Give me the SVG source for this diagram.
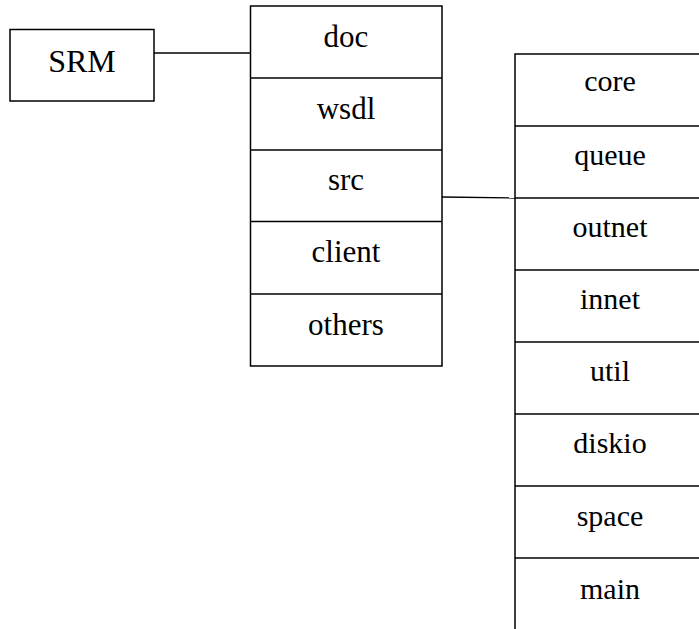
<svg xmlns="http://www.w3.org/2000/svg" width="699" height="629" viewBox="0 0 699 629" font-family="'Liberation Serif', 'Times New Roman', Times, serif">
<style>
.b{fill:#fff;stroke:#000;stroke-width:1.5}
.l{fill:none;stroke:#000;stroke-width:1.3}
text{font-size:31px;fill:#000;text-anchor:middle}
.s{font-size:30px}
</style>
<rect width="699" height="629" fill="#fff"/>
<g id="connectors">
<line class="l" x1="154" y1="53" x2="250" y2="53"/>
<line class="l" x1="442" y1="197" x2="515" y2="198"/>
</g>
<g id="srm">
<rect class="b" x="10" y="29.5" width="144" height="71.5"/>
<text x="82" y="72" style="font-size:32px">SRM</text>
</g>
<g id="mid">
<rect class="b" x="250.5" y="6" width="191.5" height="360"/>
<line class="l" x1="250.5" y1="78" x2="442" y2="78"/>
<line class="l" x1="250.5" y1="150" x2="442" y2="150"/>
<line class="l" x1="250.5" y1="221.5" x2="442" y2="221.5"/>
<line class="l" x1="250.5" y1="294" x2="442" y2="294"/>
</g>
<g id="doc"><text x="346" y="47">doc</text></g>
<g id="wsdl"><text x="346" y="119">wsdl</text></g>
<g id="src"><text x="346" y="190">src</text></g>
<g id="client"><text x="346" y="262">client</text></g>
<g id="others"><text x="346" y="335">others</text></g>
<g id="right">
<rect class="b" x="515" y="54" width="192" height="600"/>
<line class="l" x1="515" y1="126" x2="707" y2="126"/>
<line class="l" x1="515" y1="198" x2="707" y2="198"/>
<line class="l" x1="515" y1="270" x2="707" y2="270"/>
<line class="l" x1="515" y1="342" x2="707" y2="342"/>
<line class="l" x1="515" y1="414" x2="707" y2="414"/>
<line class="l" x1="515" y1="486" x2="707" y2="486"/>
<line class="l" x1="515" y1="558" x2="707" y2="558"/>
</g>
<g id="core"><text class="s" x="610" y="91">core</text></g>
<g id="queue"><text class="s" x="610" y="165">queue</text></g>
<g id="outnet"><text class="s" x="610" y="237">outnet</text></g>
<g id="innet"><text class="s" x="610" y="309">innet</text></g>
<g id="util"><text class="s" x="610" y="381">util</text></g>
<g id="diskio"><text class="s" x="610" y="453">diskio</text></g>
<g id="space"><text class="s" x="610" y="526">space</text></g>
<g id="main"><text class="s" x="610" y="599">main</text></g>
</svg>
